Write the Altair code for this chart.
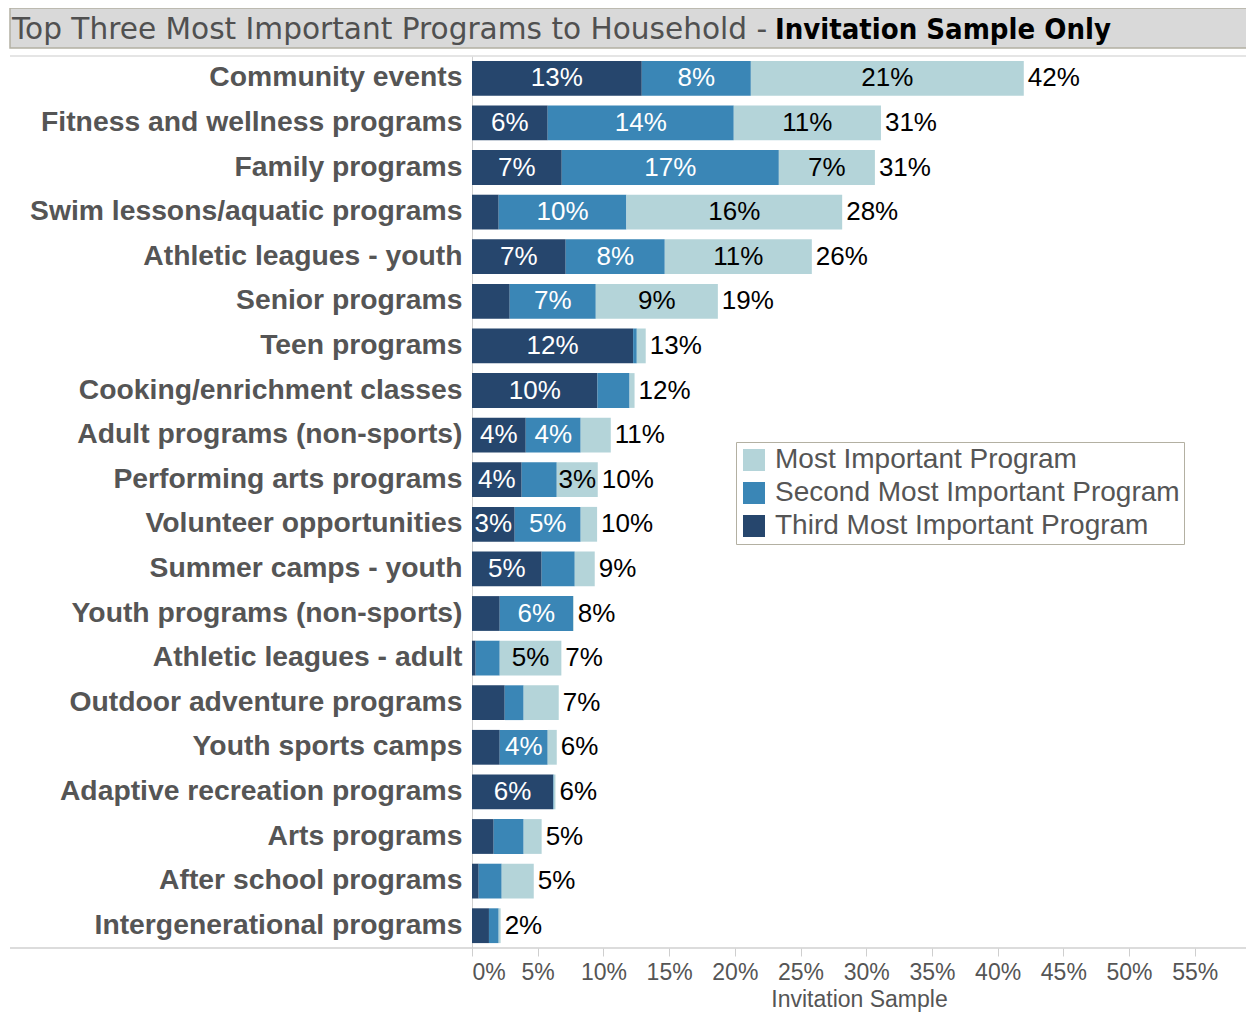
import altair as alt
import pandas as pd

programs = [
    "Community events",
    "Fitness and wellness programs",
    "Family programs",
    "Swim lessons/aquatic programs",
    "Athletic leagues - youth",
    "Senior programs",
    "Teen programs",
    "Cooking/enrichment classes",
    "Adult programs (non-sports)",
    "Performing arts programs",
    "Volunteer opportunities",
    "Summer camps - youth",
    "Youth programs (non-sports)",
    "Athletic leagues - adult",
    "Outdoor adventure programs",
    "Youth sports camps",
    "Adaptive recreation programs",
    "Arts programs",
    "After school programs",
    "Intergenerational programs",
]
third = [12.92, 5.76, 6.83, 2.03, 7.13, 2.87, 12.26, 9.55, 4.09, 3.78,
         3.25, 5.30, 2.11, 0.28, 2.49, 2.11, 6.17, 1.65, 0.51, 1.29]
second = [8.30, 14.16, 16.52, 9.72, 7.54, 6.55, 0.28, 2.44, 4.18, 2.67,
          5.02, 2.52, 5.58, 1.83, 1.44, 3.65, 0.05, 2.28, 1.75, 0.74]
most = [20.77, 11.20, 7.31, 16.42, 11.19, 9.29, 0.68, 0.38, 2.29, 3.12,
        1.25, 1.52, 0.05, 4.69, 2.67, 0.69, 0.13, 1.37, 2.44, 0.15]

series_names = ["Most Important Program", "Second Most Important Program", "Third Most Important Program"]
series_colors = ["#b4d4d9", "#3a86b6", "#26466d"]
x_ticks = list(range(0, 60, 5))

rows = []
for i, p in enumerate(programs):
    rows.append({"program": p, "series": series_names[2], "rank": 0, "value": third[i]})
    rows.append({"program": p, "series": series_names[1], "rank": 1, "value": second[i]})
    rows.append({"program": p, "series": series_names[0], "rank": 2, "value": most[i]})
df = pd.DataFrame(rows)

W = 774
H = 892
SANS = "Liberation Sans, Arial, sans-serif"
TITLE_FONT = "DejaVu Sans, Verdana, sans-serif"
TITLE_BOLD_FONT = "DejaVu Sans Condensed, DejaVu Sans, Verdana, sans-serif"
GRAY = "#555555"

y_enc = alt.Y(
    "program:N",
    sort=programs,
    scale=alt.Scale(paddingInner=0.22, paddingOuter=0.11),
    axis=alt.Axis(
        title=None, labelFontSize=28.3, labelFont=SANS, labelFontWeight="bold",
        labelColor=GRAY, labelPadding=10, ticks=False, domain=True,
        domainColor="#d0d0d0", labelLimit=600,
    ),
)

x_scale = alt.Scale(domain=[0, 58.9], nice=False)

bars = alt.Chart(df).mark_bar().encode(
    x=alt.X(
        "value:Q", stack="zero", scale=x_scale,
        axis=alt.Axis(
            values=x_ticks, labelExpr="datum.value + '%'", domain=False, grid=False,
            ticks=True, tickColor="#cfcfcf", tickSize=8, labelFontSize=23,
            labelFont=SANS, labelColor=GRAY, labelFlush=True, labelPadding=5,
            title="Invitation Sample", titleFontSize=23, titleFont=SANS,
            titleColor=GRAY, titleFontWeight="normal", titlePadding=4,
        ),
    ),
    y=y_enc,
    color=alt.Color(
        "series:N",
        scale=alt.Scale(domain=series_names, range=series_colors),
        legend=alt.Legend(
            title=None, orient="none", legendX=264, legendY=386,
            fillColor="white", strokeColor="#b3b0a2", padding=4,
            symbolType="square", symbolSize=484, symbolStrokeWidth=0,
            labelFontSize=28, labelFont=SANS, labelColor=GRAY, labelOffset=7,
            rowPadding=5, labelLimit=600,
        ),
    ),
    order=alt.Order("rank:Q"),
)

seg_text = (
    alt.Chart(df)
    .transform_stack(stack="value", groupby=["program"], as_=["x0", "x1"],
                     sort=[alt.SortField("rank", order="ascending")])
    .transform_filter("datum.value >= 3")
    .transform_calculate(mid="(datum.x0 + datum.x1) / 2",
                         label="format(datum.value, '.0f') + '%'")
    .mark_text(fontSize=26, font=SANS, baseline="middle", align="center")
    .encode(
        x=alt.X("mid:Q", scale=x_scale),
        y=y_enc,
        text="label:N",
        color=alt.condition(alt.datum.series == series_names[0],
                            alt.value("black"), alt.value("white")),
    )
)

tot_text = (
    alt.Chart(df)
    .transform_aggregate(total="sum(value)", groupby=["program"])
    .transform_calculate(label="format(datum.total, '.0f') + '%'")
    .mark_text(fontSize=26, font=SANS, baseline="middle", align="left", dx=4, color="black")
    .encode(x=alt.X("total:Q", scale=x_scale), y=y_enc, text="label:N")
)

one = pd.DataFrame({"t": [0]})
title_bar = alt.Chart(one).mark_rect(fill="#d9d9d9", stroke="#b3b0a2", strokeWidth=1.5).encode(
    x=alt.value(-462), x2=alt.value(W + 2), y=alt.value(-48), y2=alt.value(-8)
)
title1 = alt.Chart(one).mark_text(
    text="Top Three Most Important Programs to Household - ", font=TITLE_FONT, fontSize=29.6,
    color="#505050", align="left", baseline="alphabetic",
).encode(x=alt.value(-460), y=alt.value(-17))
title2 = alt.Chart(one).mark_text(
    text="Invitation Sample Only", font=TITLE_BOLD_FONT, fontSize=29, fontWeight="bold",
    color="black", align="left", baseline="alphabetic",
).encode(x=alt.value(303), y=alt.value(-17))

top_rule = alt.Chart(one).mark_rule(color="#dcdcdc", strokeWidth=1.5).encode(
    x=alt.value(-462), x2=alt.value(W), y=alt.value(0)
)
bot_rule = alt.Chart(one).mark_rule(color="#d0d0d0", strokeWidth=1.5).encode(
    x=alt.value(-462), x2=alt.value(W), y=alt.value(H)
)

chart = (
    alt.layer(title_bar, title1, title2, top_rule, bot_rule, bars, seg_text, tot_text)
    .properties(
        width=W, height=H,
        autosize=alt.AutoSizeParams(type="none"),
        padding={"left": 464, "top": 48, "right": 0, "bottom": 67},
    )
    .configure_view(stroke=None)
)

chart.save("out.html", embed_options={"renderer": "svg", "actions": False})
